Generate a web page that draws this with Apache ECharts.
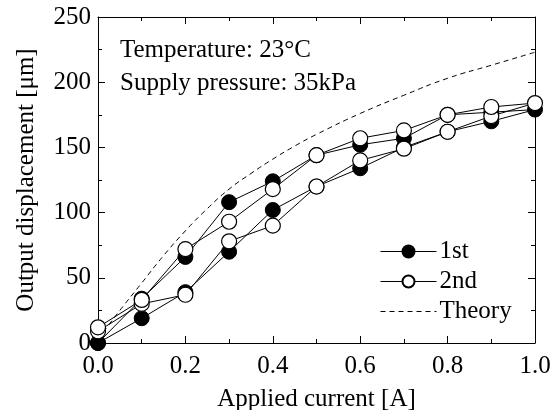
<!DOCTYPE html>
<html>
<head>
<meta charset="utf-8">
<script src="https://cdn.jsdelivr.net/npm/echarts@6/dist/echarts.min.js"></script>
<style>
  html, body { margin: 0; padding: 0; background: #fff; }
  #chart { width: 559px; height: 410px; }
</style>
</head>
<body>
<div id="chart"></div>
<script>
// Applied current steps (A), loading sweep
const currents = [0.0, 0.1, 0.2, 0.3, 0.4, 0.5, 0.6, 0.7, 0.8, 0.9, 1.0];

// 1st run: loading (0 -> 1 A) and unloading (1 -> 0 A), displacement in µm
const firstUp   = [0, 19, 39, 70, 102, 120, 134, 150, 162, 170, 179];
const firstDown = [179, 177, 175, 157, 152, 144, 124, 108, 66, 34, 0];

// 2nd run
const secondUp   = [9, 30, 37, 78, 90, 120, 140, 149, 162, 174, 184];
const secondDown = [184, 181, 175, 163, 157, 144, 118, 93, 72, 33, 12];

// Theoretical curve
const theoryX = [0.0, 0.05, 0.1, 0.15, 0.2, 0.25, 0.3, 0.35, 0.4, 0.45, 0.5, 0.6, 0.7, 0.8, 0.9, 1.0];
const theoryY = [3, 25, 46, 67, 86, 103, 118, 130, 141, 151, 160, 176, 190, 203, 213, 223];

// Axis tick labels
const xTickLabels = ['0.0', '0.2', '0.4', '0.6', '0.8', '1.0'];
const yTickLabels = ['0', '50', '100', '150', '200', '250'];

const FONT = '"Liberation Serif", "Times New Roman", serif';
const FS = 25;

// Sweep up then back down as one continuous loop
function loop(up, down) {
  const pts = currents.map((x, i) => [x, up[i]]);
  const rev = currents.slice().reverse();
  for (let i = 1; i < rev.length; i++) pts.push([rev[i], down[i]]);
  return pts;
}

const chart = echarts.init(document.getElementById('chart'), null, { renderer: 'canvas' });

const baseAxis = {
  axisLine: { show: true, onZero: false, lineStyle: { color: '#000', width: 1 } },
  axisTick: { show: true, inside: true, length: 7, lineStyle: { color: '#000' } },
  minorTick: { show: true, splitNumber: 2, length: 4, lineStyle: { color: '#000' } },
  splitLine: { show: false },
  minorSplitLine: { show: false }
};

chart.setOption({
  animation: false,
  backgroundColor: '#fff',
  grid: { left: 98, right: 24, top: 17, bottom: 67, containLabel: false, outerBoundsMode: 'none' },
  xAxis: [
    Object.assign({}, baseAxis, {
      type: 'value', min: 0, max: 1, interval: 0.2, position: 'bottom',
      name: 'Applied current [A]', nameLocation: 'middle', nameGap: 44,
      nameTextStyle: { fontFamily: FONT, fontSize: FS, color: '#000' },
      axisLabel: {
        margin: 11, fontFamily: FONT, fontSize: FS, color: '#000',
        formatter: (v) => xTickLabels[Math.round(v / 0.2)]
      }
    }),
    Object.assign({}, baseAxis, {
      type: 'value', min: 0, max: 1, interval: 0.2, position: 'top',
      axisLabel: { show: false }
    })
  ],
  yAxis: [
    Object.assign({}, baseAxis, {
      type: 'value', min: 0, max: 250, interval: 50, position: 'left',
      name: 'Output displacement [μm]', nameLocation: 'middle', nameGap: 59,
      nameTextStyle: { fontFamily: FONT, fontSize: FS, color: '#000' },
      axisLabel: {
        margin: 7, fontFamily: FONT, fontSize: FS, color: '#000',
        formatter: (v) => yTickLabels[Math.round(v / 50)]
      }
    }),
    Object.assign({}, baseAxis, {
      type: 'value', min: 0, max: 250, interval: 50, position: 'right',
      axisLabel: { show: false }
    })
  ],
  legend: {
    orient: 'vertical', left: 375, top: 234,
    itemWidth: 56, itemHeight: 15, itemGap: 5,
    textStyle: { fontFamily: FONT, fontSize: FS, color: '#000', padding: [0, 0, 0, -2] },
    data: [
      { name: '1st', lineStyle: { width: 1 } },
      { name: '2nd', lineStyle: { width: 1 } },
      { name: 'Theory', lineStyle: { width: 1 }, itemStyle: { opacity: 0 } }
    ]
  },
  graphic: [
    { type: 'text', left: 120, top: 38,
      style: { text: 'Temperature: 23°C', font: FS + 'px ' + FONT, fill: '#000' } },
    { type: 'text', left: 120, top: 71,
      style: { text: 'Supply pressure: 35kPa', font: FS + 'px ' + FONT, fill: '#000' } }
  ],
  series: [
    {
      name: 'Theory', type: 'line', smooth: true, symbol: 'none',
      data: theoryX.map((x, i) => [x, theoryY[i]]),
      lineStyle: { color: '#000', width: 1, type: [5, 4] },
      itemStyle: { color: '#000' }
    },
    {
      name: '1st', type: 'line', symbol: 'circle', symbolSize: 15,
      data: loop(firstUp, firstDown),
      lineStyle: { color: '#000', width: 1 },
      itemStyle: { color: '#000', borderColor: '#000', borderWidth: 1 }
    },
    {
      name: '2nd', type: 'line', symbol: 'circle', symbolSize: 15,
      data: loop(secondUp, secondDown),
      lineStyle: { color: '#000', width: 1 },
      itemStyle: { color: '#fff', borderColor: '#000', borderWidth: 1.2 }
    }
  ]
});
</script>
</body>
</html>
